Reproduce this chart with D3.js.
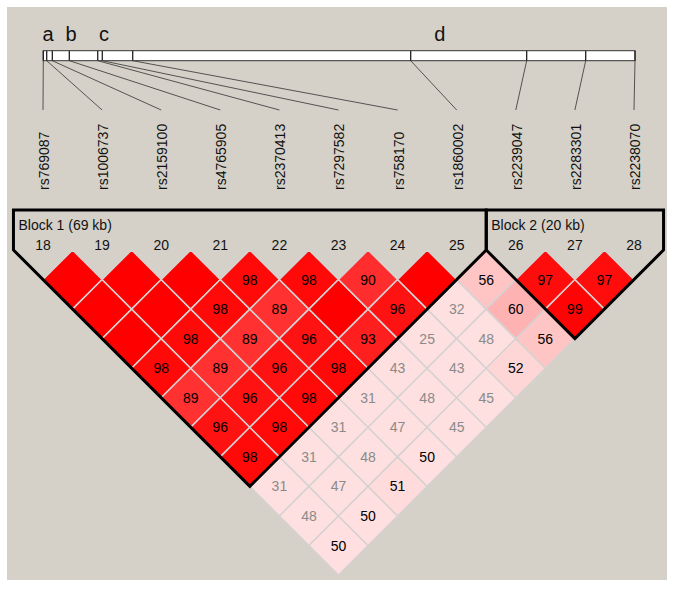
<!DOCTYPE html>
<html><head><meta charset="utf-8">
<script src="https://cdn.jsdelivr.net/npm/d3@7"></script>
<style>body{margin:0;background:#fff}</style>
</head><body><svg id="c" width="676" height="589"></svg>
<script>
// ---- data ----
const markerNums = [18,19,20,21,22,23,24,25,26,27,28];
const snpNames = ["rs769087","rs1006737","rs2159100","rs4765905","rs2370413","rs7297582","rs758170","rs1860002","rs2239047","rs2283301","rs2238070"];
const snpPosKb = [0, 0.64, 1.69, 4.88, 10.21, 11.07, 16.77, 68.92, 90.68, 101.75, 111.0];
const regionLetters = ["a","b","c","d"];
const regionPosKb = [0.88, 5.2, 11.4, 74.4];
// D' x100, upper triangle: row i holds pairs (i, i+1 .. last)
const dprime0 = [100,100,100,98,89,96,98,31,48,50];
const dprime1 = [100,100,98,89,96,98,31,47,50];
const dprime2 = [100,98,89,96,98,31,48,51];
const dprime3 = [98,89,96,98,31,47,50];
const dprime4 = [98,100,93,43,48,45];
const dprime5 = [90,96,25,43,45];
const dprime6 = [100,32,48,52];
const dprime7 = [56,60,56];
const dprime8 = [97,99];
const dprime9 = [97];
const dprimeRows = [dprime0,dprime1,dprime2,dprime3,dprime4,dprime5,dprime6,dprime7,dprime8,dprime9];
const blockLabels = ["Block 1 (69 kb)", "Block 2 (20 kb)"];
const blockFirst = [18, 26];
const blockLast = [25, 28];

// ---- drawing ----
const svg = d3.select("#c");
const FONT = "'Liberation Sans', Arial, sans-serif";

svg.append("rect").attr("x",7).attr("y",7).attr("width",660).attr("height",573).attr("fill","#d5d1c9");

const x = d3.scalePoint().domain(markerNums).range([43, 634]);
const h = x.step()/2;
const yTop = 250;
const yDist = d => yTop + d*h;

const kb = d3.scaleLinear().domain([0, 111.0]).range([43.3, 635]);
const barY0 = 50.7, barY1 = 60.7, lineEnd = 110, labelStart = 190;

// region letters
svg.selectAll("text.reg").data(regionLetters).join("text")
  .attr("x",(d,i)=>kb(regionPosKb[i])).attr("y",41)
  .attr("text-anchor","middle").attr("font-family",FONT).attr("font-size",20)
  .attr("fill","#111").text(d=>d);

// bar
svg.append("rect").attr("x",kb(0)).attr("y",barY0).attr("width",kb(111.0)-kb(0)).attr("height",barY1-barY0)
  .attr("fill","#fff").attr("stroke","#333").attr("stroke-width",1);
svg.selectAll("line.tick").data(snpPosKb).join("line")
  .attr("x1",d=>kb(d)).attr("x2",d=>kb(d)).attr("y1",barY0).attr("y2",barY1)
  .attr("stroke","#222").attr("stroke-width",1.3);
// connectors
svg.selectAll("line.conn").data(snpPosKb).join("line")
  .attr("x1",d=>kb(d)).attr("y1",barY1)
  .attr("x2",(d,i)=>x(markerNums[i])).attr("y2",lineEnd)
  .attr("stroke","#444").attr("stroke-width",0.9);
// SNP names
svg.selectAll("text.snp").data(snpNames).join("text")
  .attr("transform",(d,i)=>`translate(${x(markerNums[i])+1},${labelStart}) rotate(-90)`)
  .attr("dy","0.35em").attr("font-family",FONT).attr("font-size",14).attr("fill","#111")
  .text(d=>d);

// cells
const cells = [];
dprimeRows.forEach((row,i)=>row.forEach((v,k)=>{
  const j = i+k+1;
  cells.push({i,j,v,cx:(x(markerNums[i])+x(markerNums[j]))/2, cy:yDist(j-i)});
}));
function cellColor(v){
  if (v>=100) return "rgb(255,0,0)";
  if (v<50) return "rgb(255,224,224)";
  const b = Math.round(223*2*(1-v/100));
  return `rgb(255,${b},${b})`;
}
svg.selectAll("path.cell").data(cells).join("path")
  .attr("d",c=>`M${c.cx},${c.cy-h}L${c.cx+h},${c.cy}L${c.cx},${c.cy+h}L${c.cx-h},${c.cy}Z`)
  .attr("fill",c=>cellColor(c.v)).attr("stroke","#d6d2d2").attr("stroke-width",1.5);
svg.selectAll("text.val").data(cells.filter(c=>c.v<100)).join("text")
  .attr("x",c=>c.cx).attr("y",c=>c.cy).attr("dy","0.36em").attr("text-anchor","middle")
  .attr("font-family",FONT).attr("font-size",14)
  .attr("fill",c=>c.v<50?"#8a8a8a":"#000").text(c=>c.v);

// marker numbers
svg.selectAll("text.num").data(markerNums).join("text")
  .attr("x",d=>x(d)).attr("y",250).attr("text-anchor","middle")
  .attr("font-family",FONT).attr("font-size",14).attr("fill","#111").text(d=>d);

// blocks
const boxTop = 210;
blockLabels.forEach((lab,b)=>{
  const xs = x(blockFirst[b]), xe = x(blockLast[b]);
  const n = markerNums.indexOf(blockLast[b]) - markerNums.indexOf(blockFirst[b]);
  const pts = [[xs-h,boxTop],[xe+h,boxTop],[xe+h,yTop],[(xs+xe)/2, yDist(n)+h],[xs-h,yTop]];
  svg.append("path").attr("d",d3.line()(pts)+"Z").attr("fill","none")
    .attr("stroke","#000").attr("stroke-width",3).attr("stroke-linejoin","miter");
  svg.append("text").attr("x",xs-h+5).attr("y",230).attr("font-family",FONT)
    .attr("font-size",14).attr("fill","#111").text(lab);
});
</script></body></html>
